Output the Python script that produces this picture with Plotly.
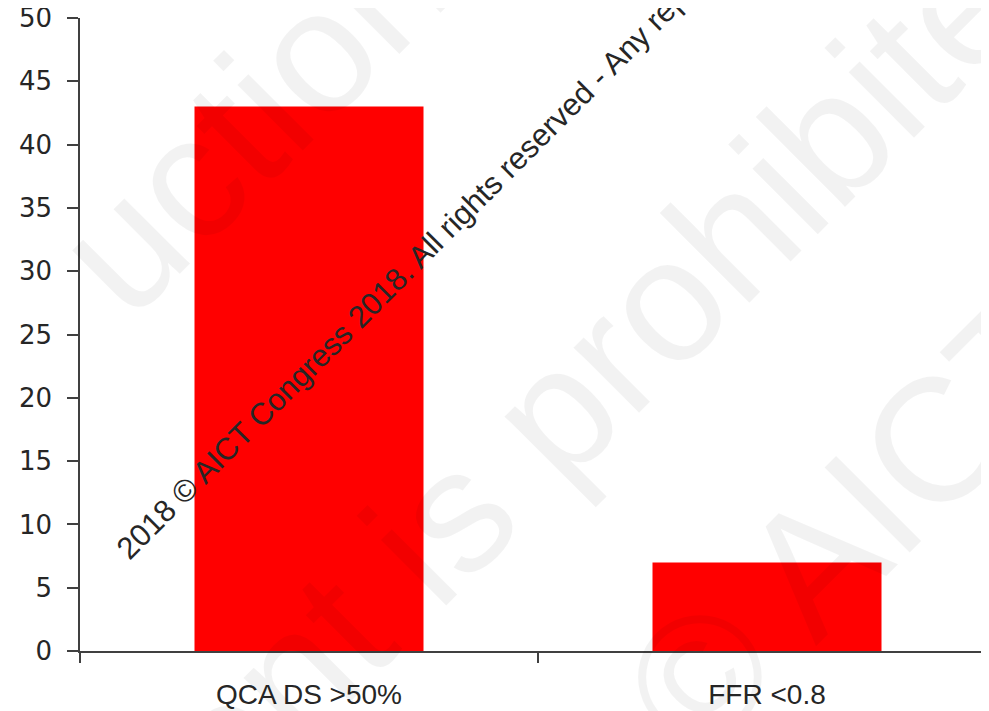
import plotly.graph_objects as go

categories = ["QCA DS >50%", "FFR <0.8"]
values = [43, 7]
y_ticks = [0, 5, 10, 15, 20, 25, 30, 35, 40, 45, 50]

# the page has an 8px body margin, so the figure is 8px smaller than the window
W, H = 981, 703
ML, MR, MT, MB = 72, 0, 10, 60
PW, PH = W - ML - MR, H - MT - MB
OFF = 8


def px(x, y):
    """window pixel -> paper coordinates"""
    return (x - OFF - ML) / PW, (H - MB - (y - OFF)) / PH


fig = go.Figure()
fig.add_trace(go.Bar(x=categories, y=values, marker=dict(color="#ff0000", line=dict(width=0)),
                     width=0.5, showlegend=False, hoverinfo="skip"))

gray = "rgba(0,0,0,0.05)"
wm = [
    ("uction", (251, 116)),
    ("content is prohibited", (509, 458)),
    ("© AICT", (854, 522)),
]
annotations = []
for txt, (cx, cy) in wm:
    xp, yp = px(cx, cy)
    annotations.append(dict(text=txt, x=xp, y=yp, xref="paper", yref="paper",
                            xanchor="center", yanchor="middle", textangle=-45, showarrow=False,
                            font=dict(family="Liberation Sans, Arial, sans-serif", size=175, color=gray)))

bx, by = px(447, 228)
annotations.append(dict(text="2018 © AICT Congress 2018. All rights reserved - Any reproduction",
                        x=bx, y=by, xref="paper", yref="paper", xanchor="center", yanchor="middle",
                        textangle=-45, showarrow=False,
                        font=dict(family="Liberation Sans, Arial, sans-serif", size=31, color="#262626")))

fig.update_layout(
    template="none",
    width=W, height=H,
    margin=dict(l=ML, r=MR, t=MT, b=MB, pad=0, autoexpand=False),
    paper_bgcolor="white", plot_bgcolor="white",
    annotations=annotations,
    xaxis=dict(range=[-0.5, 1.5 - 7 / 458], showgrid=False, zeroline=False, automargin=False,
               showline=True, linecolor="#404040", linewidth=1.5,
               ticks="outside", tickson="boundaries", ticklen=10, tickwidth=1.5, tickcolor="#404040",
               tickfont=dict(family="Liberation Sans, Arial, sans-serif", size=28, color="#262626"),
               ticklabelstandoff=18, ticklabeloverflow="allow"),
    yaxis=dict(range=[0, 50], tickvals=y_ticks, showgrid=False, zeroline=False, automargin=False,
               showline=True, linecolor="#404040", linewidth=1.5,
               ticks="outside", ticklen=11, tickwidth=1.5, tickcolor="#404040",
               tickfont=dict(family="DejaVu Sans, sans-serif", size=26, color="#262626"),
               ticklabelstandoff=10, ticklabeloverflow="allow"),
)

fig.write_html("out.html")
